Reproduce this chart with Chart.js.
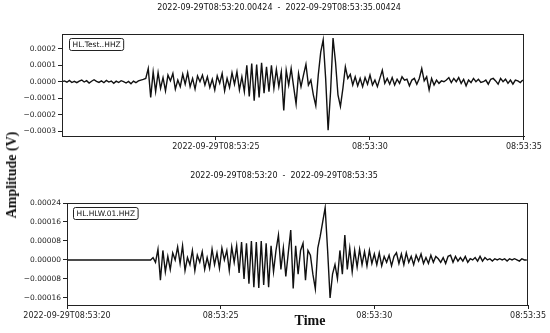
<!DOCTYPE html>
<html>
<head>
<meta charset="utf-8">
<script src="https://cdn.jsdelivr.net/npm/chart.js@4.4.1/dist/chart.umd.min.js"></script>
<style>
body { margin: 0; background: #fff; }
#wrap { position: relative; width: 550px; height: 333px; }
#c1 { position: absolute; left: 0; top: 0; }
#c2 { position: absolute; left: 0; top: 160px; }
.ylab { position: absolute; left: 12px; top: 175px; transform: translate(-50%, -50%) rotate(-90deg);
        font: bold 14px "Liberation Serif"; white-space: nowrap; color: #111; }
.xlab { position: absolute; left: 310px; top: 321px; transform: translate(-50%, -50%);
        font: bold 14px "Liberation Serif"; color: #111; }
</style>
</head>
<body>
<div id="wrap">
  <canvas id="c1" width="550" height="160"></canvas>
  <canvas id="c2" width="550" height="173"></canvas>
  <div class="ylab">Amplitude (V)</div>
  <div class="xlab">Time</div>
</div>
<script>
// seconds after 08:53:20, one sample every 0.08 s
const sampleStep = 0.08;
const topStart = 0.00424;
const bottomStart = 0;

// amplitudes in microvolts (1e-6 V)
const topValues = [
  0, 5, -3, 8, -5, 2, -6, 4, 10, -2, 6, -8, 3, 12, 2, -4, 5, -6, 8, -2,
  4, -10, 3, -5, 6, 0, -8, 2, -12, 4, -6, 5, 10, 14,
  20, 80, -95, 60, -60,
  55, -40, 25, -55, 40, 5, 50, -45, 10, -30, 45, -15, 55, -30, 20, -45,
  35, 0, 40, -20, 30, -35, 15, -50, 35, -10, 50, -55, 20, -35, 55, -15,
  60, -50, 30, -60,
  100, -90, 110, -115, 105, -95, 115, -70, 90, -60, 100, -40, 75, -30, 60, -175,
  70, -20, 80, -30, -135, 50, -30, 40, 105, -20, 10, -80, -145, 40, 180, 255,
  20, -295, -60, 265, 120,
  -80, -150, -40, 90, 20, 45, -20, 30, -25, 20, -30, 25, -15, 40, -20, 10,
  -30, 20, 70, -10, 20, -15, 25, -20, 15, -10, 30, 10, 15, -25, 10, 20,
  -15, 20, 80, 5, 30, -50, 20, -20, 10, -10, 5, 0, 10, 25, -5, 20,
  0, 25, -10, 15, -25, 10, -5, 20, 0, 15, -5, 0, 10, -15, 15, 20,
  5, -15, 20, 0, 15, -10, 10, -15, 10, 5, -5, 10
];

const bottomValues = [
  0, 0, 0, 0, 0, 0, 0, 0, 0, 0, 0, 0, 0, 0, 0, 0, 0, 0, 0, 0,
  0, 0, 0, 0, 0, 0, 0, 0, 0, 0, 0, 0, 0, 0, 0,
  10, -10, 45, -85,
  40, -50, 15, -40, 30, 0, 55, -15, 60, -45, 10, -20, 40, -45, 20, -10,
  35, -40, 10, -35, 45, -20, 30, -35, 50, 0, 40, -45, 55, -10, 60, -55,
  75, -80, 70, -100, 80, -115, 75, -118, 80, -105, 70, -115, 60, -50, 40,
  105, -40, 50, -70, 30, 126, -120, 60, -60, 40, 70, -85, 40, 20, -60, -122,
  50, 100, 160, 220, 40, -160, -60, -20, -80, 40, -60, 105, -40, 50, -50, 40,
  -30, 45, -20, 35, -25, 40, -15, 25, -20, 30, -25, 15, -10, 20, -25, 15,
  30, -15, 25, -20, 30, -10, 15, -20, 20, -5, 25, -15, 10, -15, 20, -10,
  15, 5, -10, 10, -15, 15, 20, -10, 15, -5, 10, -5, 15, -10, 5, 0,
  10, -5, 15, -5, 10, 0, 5, -5, 5, 0, 5, 0, 5, -5, 5, 0,
  5, 0, -5, 5, 0, 0
];

const topYTicks = [-0.0003, -0.0002, -0.0001, 0, 0.0001, 0.0002];
const topYLabels = ['\u22120.0003', '\u22120.0002', '\u22120.0001', '0.0000', '0.0001', '0.0002'];
const topXTicks = [5, 10, 15];
const topXLabels = ['2022-09-29T08:53:25', '08:53:30', '08:53:35'];

const bottomYTicks = [-0.00016, -0.00008, 0, 0.00008, 0.00016, 0.00024];
const bottomYLabels = ['\u22120.00016', '\u22120.00008', '0.00000', '0.00008', '0.00016', '0.00024'];
const bottomXTicks = [0, 5, 10, 15];
const bottomXLabels = ['2022-09-29T08:53:20', '08:53:25', '08:53:30', '08:53:35'];

const topTitle = '2022-09-29T08:53:20.00424  -  2022-09-29T08:53:35.00424';
const bottomTitle = '2022-09-29T08:53:20  -  2022-09-29T08:53:35';

function toPoints(values, start)
{
    return values.map((v, i) => ({ x: start + i * sampleStep, y: v * 1e-6 }));
}

const panelDecor = {
    id: 'panelDecor',
    afterDraw(chart, args, opts) {
        const ctx = chart.ctx;
        const a = chart.chartArea;
        ctx.save();
        ctx.strokeStyle = '#222';
        ctx.lineWidth = 1;
        ctx.strokeRect(a.left + 0.5, a.top + 0.5, a.right - a.left - 1, a.bottom - a.top);

        ctx.fillStyle = '#111';
        ctx.font = '8px "DejaVu Sans"';
        ctx.textAlign = 'center';
        ctx.textBaseline = 'middle';
        ctx.fillText(opts.title, opts.titleX, opts.titleY);

        ctx.font = '7.5px "DejaVu Sans"';
        ctx.textAlign = 'left';
        const w = ctx.measureText(opts.station).width;
        const bx = a.left + opts.boxDX, by = a.top + opts.boxDY;
        const bw = w + 6, bh = 12;
        ctx.beginPath();
        ctx.roundRect(bx + 0.5, by + 0.5, bw, bh, 2);
        ctx.fillStyle = '#fff';
        ctx.fill();
        ctx.stroke();
        ctx.fillStyle = '#111';
        ctx.fillText(opts.station, bx + 3.5, by + bh / 2 + 1);
        ctx.restore();
    }
};

function makePanel(id, cfg)
{
    const ctx = document.getElementById(id).getContext('2d');
    return new Chart(ctx, {
        type: 'line',
        data: {
            datasets: [{
                data: toPoints(cfg.values, cfg.start),
                borderColor: '#111',
                borderWidth: 1.4,
                pointRadius: 0,
                tension: 0
            }]
        },
        options: {
            responsive: false,
            animation: false,
            layout: { padding: cfg.padding },
            plugins: {
                legend: { display: false },
                tooltip: { enabled: false },
                panelDecor: {
                    title: cfg.title, titleX: cfg.titleX, titleY: cfg.titleY,
                    station: cfg.station, boxDX: cfg.boxDX, boxDY: cfg.boxDY
                }
            },
            scales: {
                x: {
                    type: 'linear',
                    min: cfg.start,
                    max: cfg.start + 15,
                    afterBuildTicks: s => { s.ticks = cfg.xTicks.map(v => ({ value: v })); },
                    afterFit: s => { s.height = cfg.xAxisHeight; s.paddingLeft = 0; s.paddingRight = 0; },
                    ticks: {
                        autoSkip: false, maxRotation: 0, padding: 2,
                        color: '#222', font: { family: 'DejaVu Sans', size: 8 },
                        callback: (v, i) => cfg.xLabels[i]
                    },
                    grid: { drawOnChartArea: false, drawTicks: true, tickLength: 4, color: '#222' },
                    border: { color: '#222', width: 1 }
                },
                y: {
                    min: cfg.yMin,
                    max: cfg.yMax,
                    afterBuildTicks: s => { s.ticks = cfg.yTicks.map(v => ({ value: v })); },
                    afterFit: s => { s.width = cfg.yAxisWidth; },
                    ticks: {
                        padding: 2,
                        color: '#222', font: { family: 'DejaVu Sans', size: 7.5 },
                        callback: (v, i) => cfg.yLabels[i]
                    },
                    grid: { drawOnChartArea: false, drawTicks: true, tickLength: 4, color: '#222' },
                    border: { color: '#222', width: 1 }
                }
            }
        },
        plugins: [panelDecor]
    });
}

makePanel('c1', {
    values: topValues, start: topStart,
    yMin: -0.00033, yMax: 0.00029,
    yTicks: topYTicks, yLabels: topYLabels,
    xTicks: topXTicks, xLabels: topXLabels,
    padding: { left: 0, top: 34, right: 26, bottom: 0 },
    xAxisHeight: 24, yAxisWidth: 62,
    title: topTitle, titleX: 279, titleY: 8,
    station: 'HL.Test..HHZ', boxDX: 7, boxDY: 4
});

makePanel('c2', {
    values: bottomValues, start: bottomStart,
    yMin: -0.00019, yMax: 0.00024,
    yTicks: bottomYTicks, yLabels: bottomYLabels,
    xTicks: bottomXTicks, xLabels: bottomXLabels,
    padding: { left: 0, top: 43, right: 22, bottom: 0 },
    xAxisHeight: 28, yAxisWidth: 67,
    title: bottomTitle, titleX: 284, titleY: 16,
    station: 'HL.HLW.01.HHZ', boxDX: 6, boxDY: 4
});
</script>
</body>
</html>
